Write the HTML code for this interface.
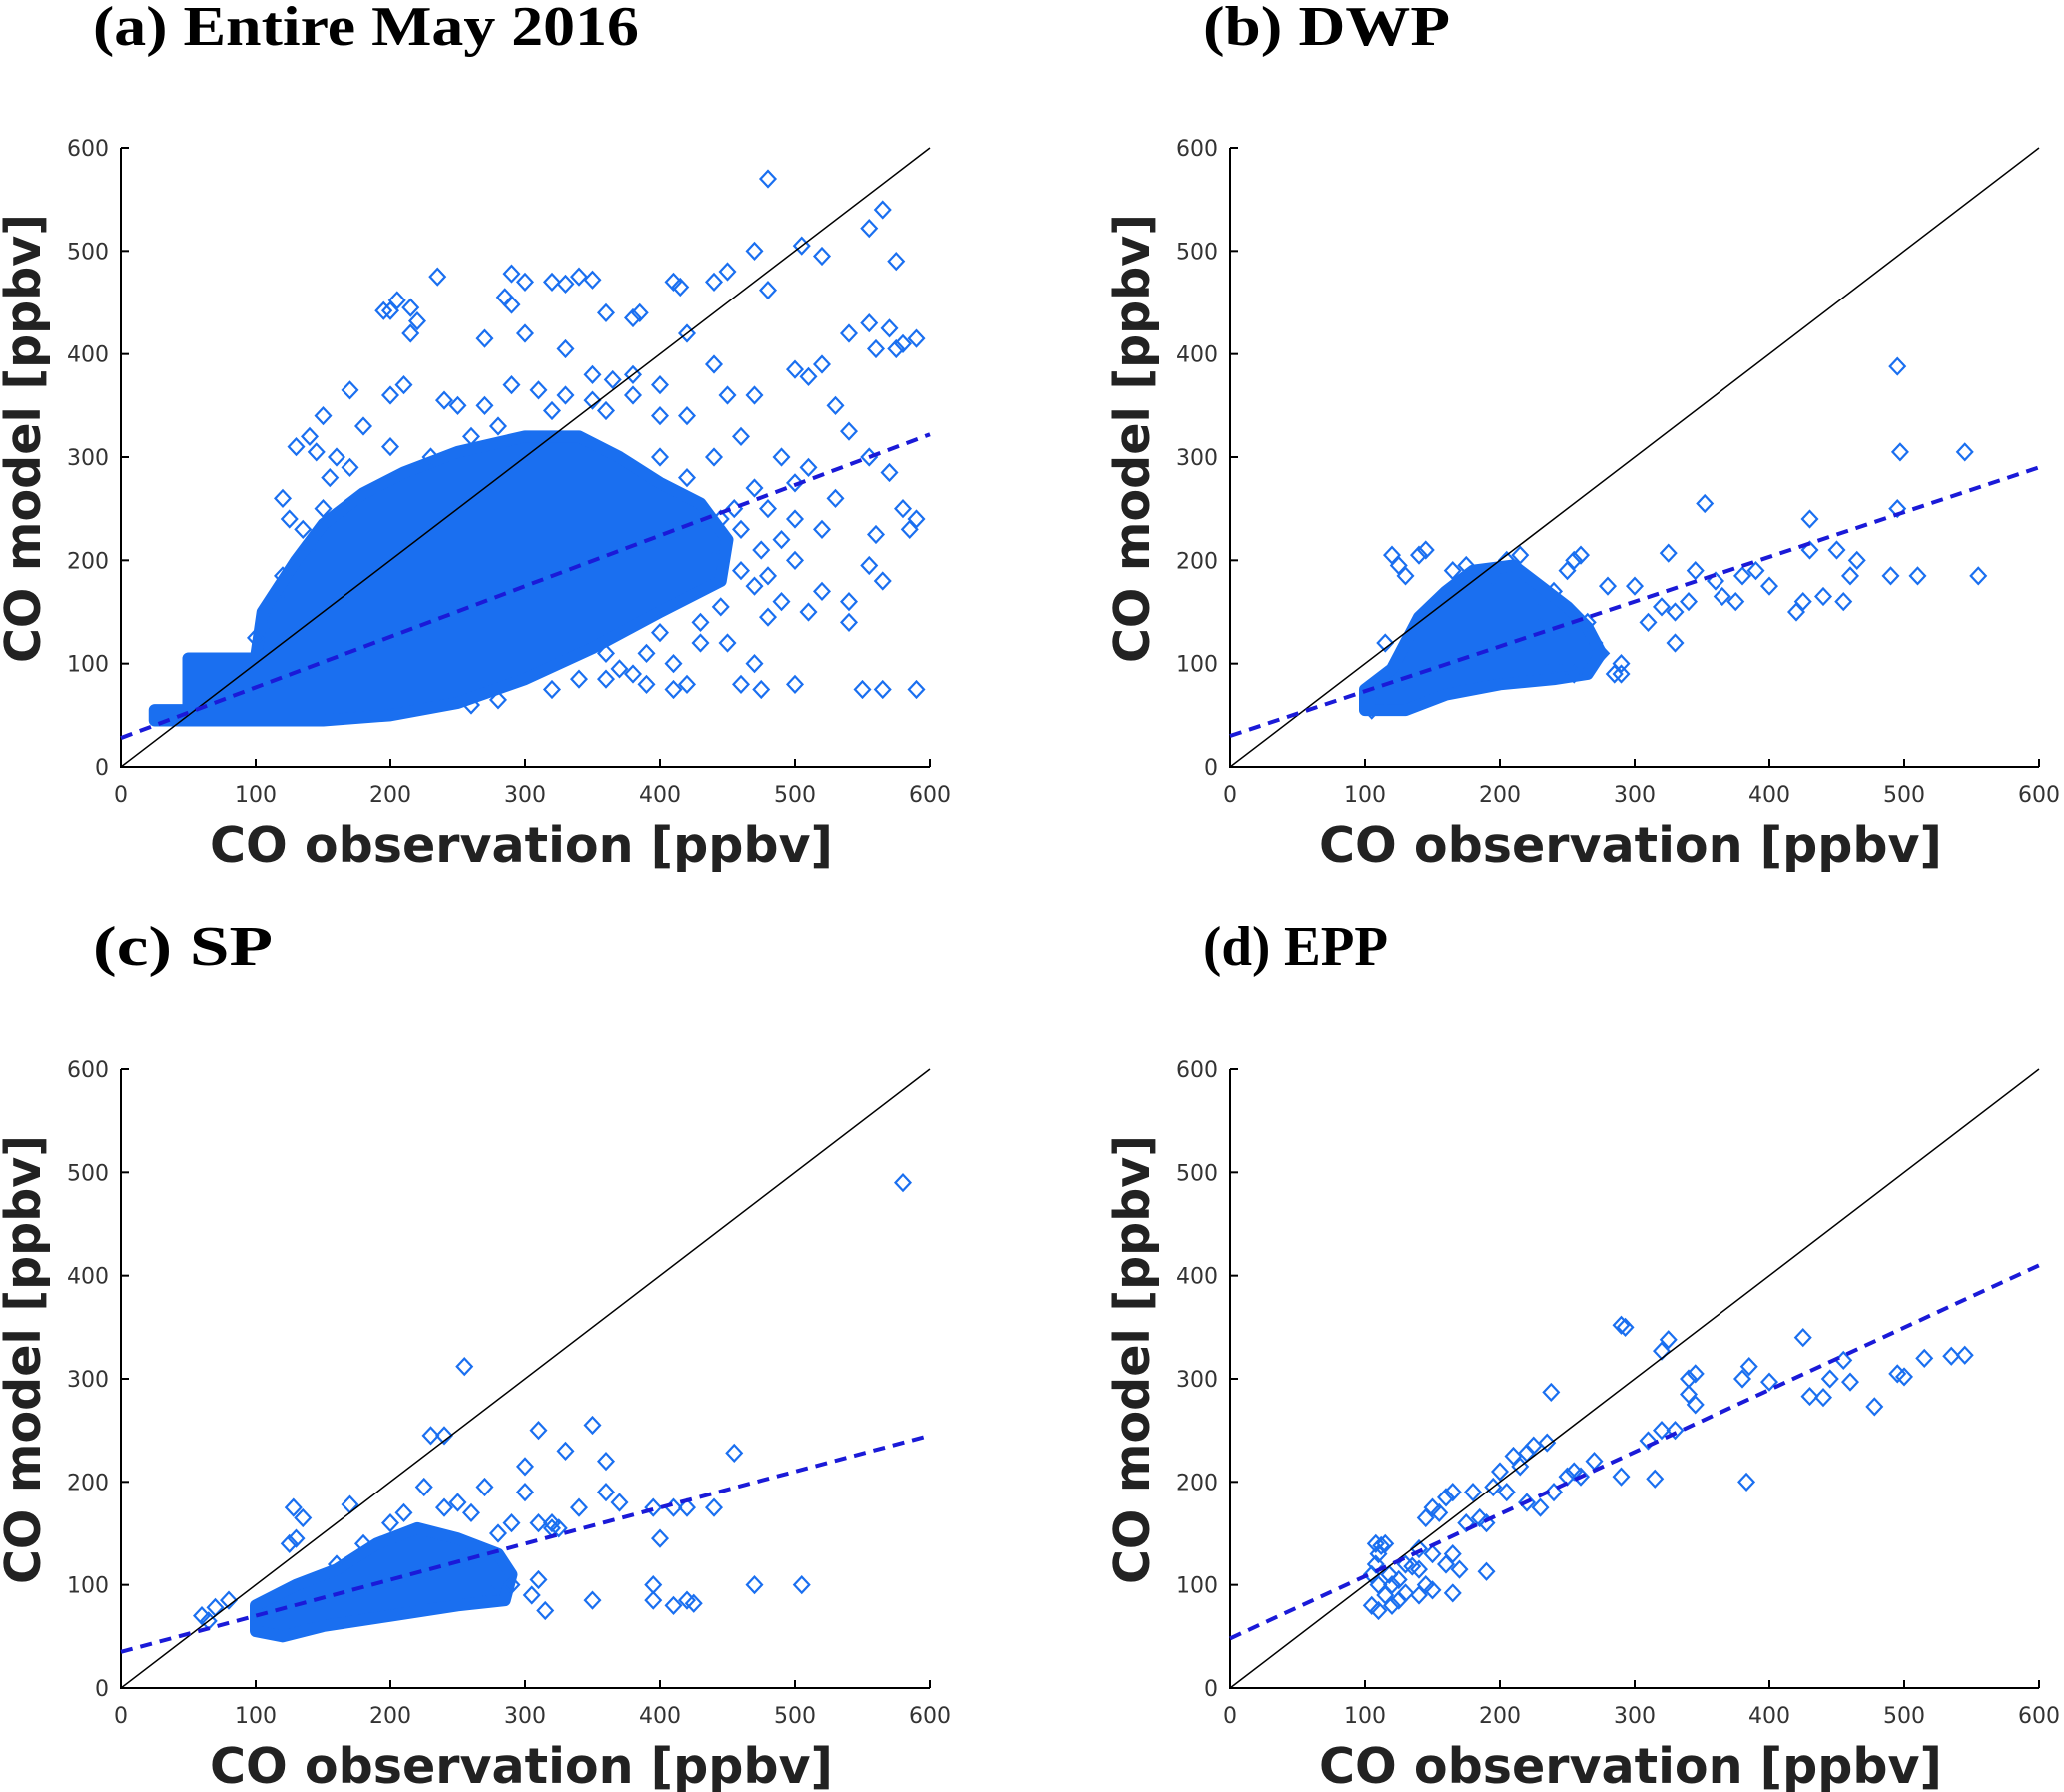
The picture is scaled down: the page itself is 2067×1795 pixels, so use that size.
<!DOCTYPE html>
<html><head><meta charset="utf-8"><style>
body{margin:0;background:#fff}
svg{display:block}
.tk{font-family:"DejaVu Sans","Liberation Sans",sans-serif;font-size:22px;fill:#333}
.ax{font-family:"DejaVu Sans","Liberation Sans",sans-serif;font-size:49px;font-weight:bold;fill:#222}
.tt{font-family:"Liberation Serif",serif;font-size:56px;font-weight:bold;fill:#000}
</style></head><body>
<svg id="fig" width="2067" height="1795" viewBox="0 0 2067 1795"></svg>
<script>
const ticks=[0,100,200,300,400,500,600];
const titles=["(a)  Entire May 2016","(b)  DWP","(c)  SP","(d)  EPP"];
const titleWidths=[547,247,180,185];
const fitA=[28,322],fitB=[30,290],fitC=[35,245],fitD=[48,410];
const ptsA=[[480,570],[565,540],[555,522],[575,490],[505,505],[520,495],[470,500],[450,480],[440,470],[410,470],[415,465],[480,462],[290,478],[300,470],[320,470],[340,475],[350,472],[330,468],[235,475],[195,442],[200,442],[205,452],[215,445],[220,432],[215,420],[285,455],[290,448],[270,415],[300,420],[330,405],[385,440],[380,435],[360,440],[420,420],[540,420],[555,430],[570,425],[580,410],[590,415],[560,405],[575,405],[520,390],[500,385],[510,378],[470,360],[450,360],[440,390],[400,370],[380,380],[350,380],[365,375],[170,365],[150,340],[140,320],[130,310],[200,360],[210,370],[240,355],[530,350],[540,325],[555,300],[490,300],[510,290],[500,275],[530,260],[560,225],[555,195],[565,180],[500,200],[520,170],[540,160],[510,150],[480,145],[470,175],[445,155],[430,140],[400,130],[380,90],[360,85],[390,80],[410,75],[420,80],[475,75],[460,80],[565,75],[590,75],[550,75],[500,80],[470,100],[450,120],[360,110],[540,140],[580,250],[585,230],[570,285],[590,240],[290,370],[310,365],[330,360],[350,355],[270,350],[250,350],[180,330],[160,300],[145,305],[155,280],[120,260],[125,240],[135,230],[420,340],[460,320],[440,300],[400,340],[480,250],[490,220],[460,230],[520,230],[380,360],[360,345],[320,345],[280,330],[260,320],[230,300],[200,310],[170,290],[150,250],[140,210],[120,185],[115,165],[100,125],[110,140],[470,270],[455,250],[475,210],[440,200],[430,120],[410,100],[390,110],[370,95],[340,85],[320,75],[280,65],[260,60],[300,290],[400,300],[420,280],[445,240],[460,190],[480,185],[490,160],[500,240]];
const coreA=[[25,45],[25,55],[50,55],[50,105],[100,105],[105,150],[130,200],[150,235],[180,265],[210,285],[250,305],[300,320],[340,320],[370,300],[400,275],[430,255],[450,220],[445,180],[400,150],[350,115],[300,85],[250,62],[200,50],[150,45]];
const ptsB=[[495,388],[497,305],[545,305],[555,185],[510,185],[490,185],[495,250],[352,255],[325,207],[300,175],[320,155],[330,120],[340,160],[345,190],[360,180],[365,165],[375,160],[380,185],[390,190],[400,175],[420,150],[425,160],[430,240],[430,210],[440,165],[450,210],[455,160],[460,185],[465,200],[330,150],[310,140],[290,100],[280,175],[260,205],[255,200],[120,205],[125,195],[130,185],[140,205],[145,210],[115,120],[110,60],[105,55],[285,90],[270,120],[265,140],[250,190],[240,170],[230,150],[215,205],[205,200],[195,185],[175,195],[165,190],[150,150],[140,140],[240,100],[255,90],[275,110],[290,90]];
const coreB=[[100,55],[100,75],[120,95],[140,145],[160,170],[180,190],[210,195],[230,175],[250,155],[265,135],[275,110],[265,90],[240,85],[200,80],[160,70],[130,55]];
const ptsC=[[580,490],[255,312],[230,245],[240,245],[310,250],[350,255],[360,220],[330,230],[300,215],[300,190],[320,160],[325,155],[340,175],[360,190],[370,180],[395,175],[400,145],[410,175],[420,175],[440,175],[455,228],[395,100],[395,85],[410,80],[420,85],[425,82],[470,100],[505,100],[350,85],[310,105],[315,75],[305,90],[60,70],[70,78],[65,65],[80,85],[125,140],[130,145],[135,165],[128,175],[170,178],[225,195],[250,180],[270,195],[290,160],[310,160],[320,155],[210,170],[200,160],[240,175],[260,170],[280,150],[180,140],[160,120],[290,100],[275,90]];
const coreC=[[100,55],[100,80],[130,100],[160,115],[190,140],[220,155],[250,145],[280,130],[290,110],[285,85],[250,80],[200,70],[150,60],[120,50]];
const ptsD=[[290,352],[293,350],[325,338],[320,327],[238,287],[340,300],[345,305],[385,312],[380,300],[400,297],[425,340],[430,283],[440,282],[445,300],[455,318],[460,297],[478,273],[495,305],[500,302],[515,320],[535,322],[545,323],[383,200],[315,203],[290,205],[320,250],[330,250],[340,285],[345,275],[310,240],[270,220],[260,205],[235,238],[225,235],[220,228],[210,225],[215,215],[200,210],[195,195],[205,190],[220,180],[230,175],[240,190],[250,205],[255,210],[180,190],[190,160],[175,160],[185,165],[165,190],[160,185],[150,175],[155,170],[145,165],[140,135],[150,130],[165,130],[160,120],[170,115],[190,113],[165,92],[140,90],[130,92],[125,85],[120,80],[110,75],[105,80],[115,90],[110,100],[105,110],[108,120],[110,130],[112,138],[108,140],[115,140],[118,110],[120,100],[125,105],[130,120],[135,118],[140,115],[145,100],[150,95]];

const NS="http://www.w3.org/2000/svg";
const svg=document.getElementById('fig');
function mk(t,a,p){const e=document.createElementNS(NS,t);for(const k in a)e.setAttribute(k,a[k]);(p||svg).appendChild(e);return e;}
const panels=[
 {x0:121,x1:931,y0:768,y1:148,ty:45,tx:93,pts:ptsA,core:coreA,fit:fitA,n:'a'},
 {x0:1232,x1:2042,y0:768,y1:148,ty:45,tx:1205,pts:ptsB,core:coreB,fit:fitB,n:'b'},
 {x0:121,x1:931,y0:1691,y1:1071,ty:967,tx:93,pts:ptsC,core:coreC,fit:fitC,n:'c'},
 {x0:1232,x1:2042,y0:1691,y1:1071,ty:967,tx:1205,pts:ptsD,core:null,fit:fitD,n:'d'}];
panels.forEach((P,i)=>{
 const g=mk('g',{});
 
 
 const sx=v=>P.x0+(P.x1-P.x0)*v/600, sy=v=>P.y0+(P.y1-P.y0)*v/600;
 const t=mk('text',{x:P.tx,y:P.ty,class:'tt',textLength:titleWidths[i],lengthAdjust:'spacingAndGlyphs'},g);t.textContent=titles[i];
 
 
 const ax=mk('path',{d:`M${P.x0} ${P.y1}V${P.y0}H${P.x1}`,stroke:'#000','stroke-width':2,fill:'none'},g);
 
 
 ticks.forEach(v=>{
  mk('line',{x1:sx(v),x2:sx(v),y1:P.y0,y2:P.y0-8,stroke:'#000','stroke-width':2},g);
  mk('line',{x1:P.x0,x2:P.x0+8,y1:sy(v),y2:sy(v),stroke:'#000','stroke-width':2},g);
  const xl=mk('text',{x:sx(v),y:P.y0+35,class:'tk','text-anchor':'middle'},g);xl.textContent=v;
  
  
  const yl=mk('text',{x:P.x0-12,y:sy(v)+8,class:'tk','text-anchor':'end'},g);yl.textContent=v;
  
  
 });
 const xt=mk('text',{x:(P.x0+P.x1)/2-4,y:P.y0+95,class:'ax','text-anchor':'middle',textLength:624,lengthAdjust:'spacingAndGlyphs'},g);xt.textContent='CO observation [ppbv]';
 
 
 const cy=(P.y0+P.y1)/2-19, cx=P.x0-81;
 const yt=mk('text',{x:cx,y:cy,class:'ax','text-anchor':'middle',transform:`rotate(-90 ${cx} ${cy})`,textLength:450,lengthAdjust:'spacingAndGlyphs'},g);yt.textContent='CO model [ppbv]';
 
 
 if(P.core){
  const c=mk('polygon',{points:P.core.map(p=>sx(p[0])+','+sy(p[1])).join(' '),fill:'#1a6ff0',stroke:'#1a6ff0','stroke-width':12,'stroke-linejoin':'round'},g);
  
  
 }
 P.pts.forEach(p=>{
  const x=sx(p[0]),y=sy(p[1]);
  const d=mk('path',{d:`M${x} ${y-8}L${x+7.5} ${y}L${x} ${y+8}L${x-7.5} ${y}Z`,fill:'none',stroke:'#1a6ff0','stroke-width':2.2},g);
  
  
 });
 const one=mk('line',{x1:sx(0),y1:sy(0),x2:sx(600),y2:sy(600),stroke:'#000','stroke-width':1.5},g);
 
 
 const f=mk('line',{x1:sx(0),y1:sy(P.fit[0]),x2:sx(600),y2:sy(P.fit[1]),stroke:'#1a1ad8','stroke-width':4,'stroke-dasharray':'12 8'},g);
 
 
});
</script>
</body></html>
